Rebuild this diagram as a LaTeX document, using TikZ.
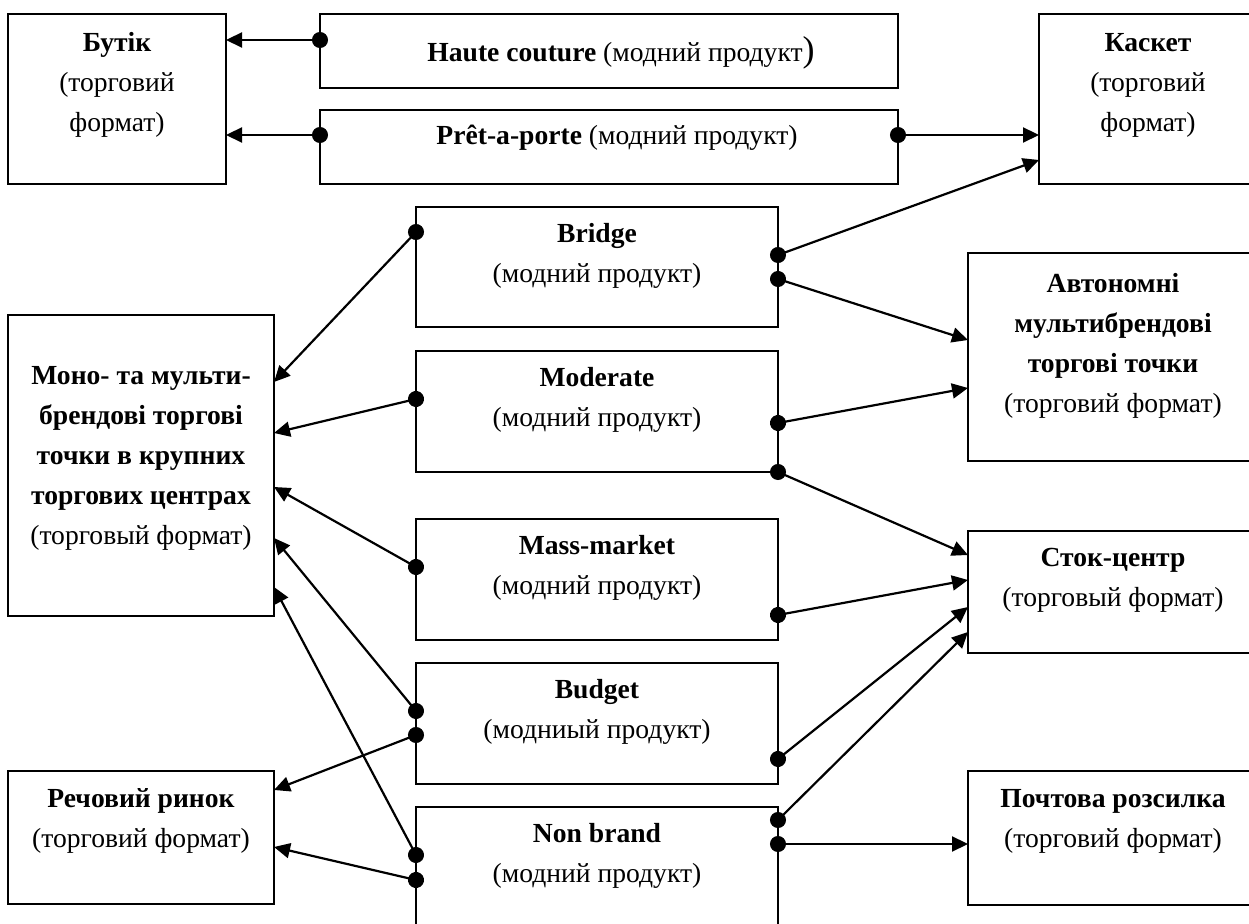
\documentclass[tikz,border=0pt]{standalone}
\usepackage{fontspec}
\setmainfont{Liberation Serif}
\usetikzlibrary{arrows.meta,fit}

\tikzset{
  box/.style={draw, line width=0.85pt, inner sep=0pt, outer sep=0pt},
  txt/.style={align=center, inner sep=0pt, font=\fontsize{13.8}{20}\selectfont},
  conn/.style={{Circle[length=8pt]}-{Triangle[length=8pt,width=7.5pt]}, line width=1.1pt, shorten <=-4pt}
}

\begin{document}
\begin{tikzpicture}[x=0.5pt, y=-0.5pt]
 \path[use as bounding box, clip] (0,0) rectangle (1249,924);
 % boxes
 \node[box, fit={(8,14) (226,184)}] (butik) {};
 \node[box, fit={(320,14) (898,88)}] (haute) {};
 \node[box, fit={(320,110) (898,184)}] (pret) {};
 \node[box, fit={(1039,14) (1257,184)}] (casket) {};
 \node[box, fit={(416,207) (778,327)}] (bridge) {};
 \node[box, fit={(968,253) (1258,461)}] (auton) {};
 \node[box, fit={(8,315) (274,616)}] (mono) {};
 \node[box, fit={(416,351) (778,472)}] (moder) {};
 \node[box, fit={(416,519) (778,640)}] (mass) {};
 \node[box, fit={(968,531) (1258,653)}] (stock) {};
 \node[box, fit={(416,663) (778,784)}] (budget) {};
 \node[box, fit={(8,771) (274,904)}] (rech) {};
 \node[box, fit={(416,807) (778,960)}] (nonbr) {};
 \node[box, fit={(968,771) (1258,905)}] (post) {};
 % texts
 \node[txt] (butik-t) at (117,85) {\textbf{Бутік}\\(торговий\\формат)};
 \node[txt] (haute-t) at (621,53) {\textbf{Haute couture} (модний продукт{\fontsize{18}{20}\selectfont)}};
 \node[txt] (pret-t) at (617,138) {\textbf{Prêt-a-porte} (модний продукт)};
 \node[txt] (casket-t) at (1148,85) {\textbf{Каскет}\\(торговий\\формат)};
 \node[txt] (bridge-t) at (597,256) {\textbf{Bridge}\\(модний продукт)};
 \node[txt] (auton-t) at (1113,346) {\textbf{Автономні}\\\textbf{мультибрендові}\\\textbf{торгові точки}\\(торговий формат)};
 \node[txt] (mono-t) at (141,458) {\textbf{Моно- та мульти-}\\\textbf{брендові торгові}\\\textbf{точки в крупних}\\\textbf{торгових центрах}\\(торговый формат)};
 \node[txt] (moder-t) at (597,400) {\textbf{Moderate}\\(модний продукт)};
 \node[txt] (mass-t) at (597,568) {\textbf{Mass-market}\\(модний продукт)};
 \node[txt] (stock-t) at (1113,580) {\textbf{Сток-центр}\\(торговый формат)};
 \node[txt] (budget-t) at (597,712) {\textbf{Budget}\\(модниый продукт)};
 \node[txt] (rech-t) at (141,821) {\textbf{Речовий ринок}\\(торговий формат)};
 \node[txt] (nonbr-t) at (597,856) {\textbf{Non brand}\\(модний продукт)};
 \node[txt] (post-t) at (1113,821) {\textbf{Почтова розсилка}\\(торговий формат)};
 % connectors
 \draw[conn] (haute.west |- 0,40) -- (butik.east |- 0,40);
 \draw[conn] (pret.west |- 0,135) -- (butik.east |- 0,135);
 \draw[conn] (pret.east |- 0,135) -- (casket.west |- 0,135);
 \draw[conn] (bridge.east |- 0,255) -- (casket.west |- 0,160);
 \draw[conn] (bridge.east |- 0,279) -- (auton.west |- 0,340);
 \draw[conn] (bridge.west |- 0,232) -- (mono.east |- 0,382);
 \draw[conn] (moder.west |- 0,399) -- (mono.east |- 0,433);
 \draw[conn] (moder.east |- 0,423) -- (auton.west |- 0,388);
 \draw[conn] (moder.east |- 0,472) -- (stock.west |- 0,555);
 \draw[conn] (mass.west |- 0,567) -- (mono.east |- 0,487);
 \draw[conn] (mass.east |- 0,615) -- (stock.west |- 0,580);
 \draw[conn] (budget.west |- 0,711) -- (mono.east |- 0,538);
 \draw[conn] (budget.west |- 0,735) -- (rech.east |- 0,790);
 \draw[conn] (budget.east |- 0,759) -- (stock.west |- 0,607);
 \draw[conn] (nonbr.west |- 0,855) -- (mono.east |- 0,587);
 \draw[conn] (nonbr.west |- 0,880) -- (rech.east |- 0,847);
 \draw[conn] (nonbr.east |- 0,820) -- (stock.west |- 0,632);
 \draw[conn] (nonbr.east |- 0,844) -- (post.west |- 0,844);
\end{tikzpicture}
\end{document}
